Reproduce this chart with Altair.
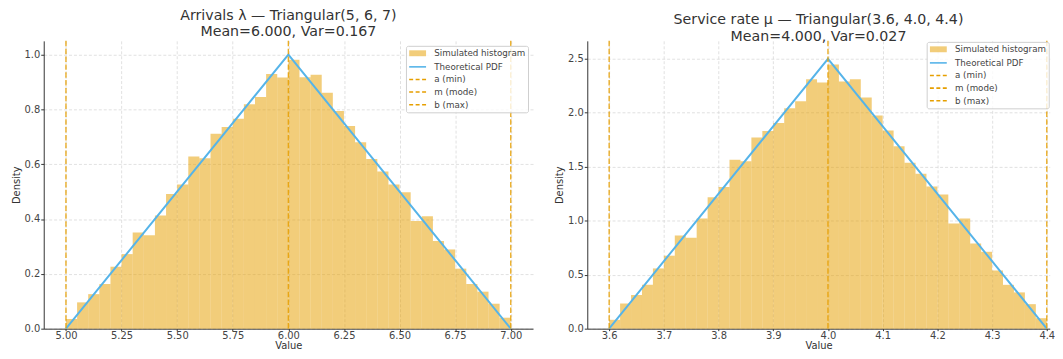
import altair as alt
import pandas as pd

# ---------------- data ----------------
series = ["Simulated histogram", "Theoretical PDF", "a (min)", "m (mode)", "b (max)"]

# Arrivals lambda ~ Triangular(5, 6, 7)
lam_a, lam_m, lam_b = 5.0, 6.0, 7.0
lam_density = [0.035, 0.096, 0.126, 0.163, 0.226, 0.272, 0.351, 0.341, 0.413, 0.491,
               0.526, 0.628, 0.622, 0.711, 0.736, 0.766, 0.819, 0.845, 0.929, 0.916,
               0.981, 0.917, 0.926, 0.861, 0.794, 0.739, 0.680, 0.619, 0.573, 0.526,
               0.498, 0.393, 0.410, 0.320, 0.289, 0.219, 0.163, 0.135, 0.091, 0.040]
lam_pdf_x = [5.0, 6.0, 7.0]
lam_pdf_y = [0.0, 1.0, 0.0]
lam_xticks = [5.00, 5.25, 5.50, 5.75, 6.00, 6.25, 6.50, 6.75, 7.00]
lam_yticks = [0.0, 0.2, 0.4, 0.6, 0.8, 1.0]
lam_title = ["Arrivals \u03bb \u2014 Triangular(5, 6, 7)", "Mean=6.000, Var=0.167"]

# Service rate mu ~ Triangular(3.6, 4.0, 4.4)
mu_a, mu_m, mu_b = 3.6, 4.0, 4.4
mu_density = [0.082, 0.233, 0.312, 0.406, 0.558, 0.676, 0.864, 0.842, 1.021, 1.218,
              1.312, 1.565, 1.550, 1.771, 1.832, 1.905, 2.041, 2.107, 2.311, 2.280,
              2.447, 2.289, 2.311, 2.141, 1.975, 1.835, 1.689, 1.538, 1.435, 1.318,
              1.242, 0.973, 1.021, 0.788, 0.712, 0.539, 0.406, 0.336, 0.227, 0.097]
mu_pdf_x = [3.6, 4.0, 4.4]
mu_pdf_y = [0.0, 2.5, 0.0]
mu_xticks = [3.6, 3.7, 3.8, 3.9, 4.0, 4.1, 4.2, 4.3, 4.4]
mu_yticks = [0.0, 0.5, 1.0, 1.5, 2.0, 2.5]
mu_title = ["Service rate \u03bc \u2014 Triangular(3.6, 4.0, 4.4)", "Mean=4.000, Var=0.027"]

# ---------------- style ----------------
HIST = "#E69F00"
BLUE = "#56B4E9"
ORANGE = "#E69F00"
FONT = "DejaVu Sans"

SHAPE_RECT = "M-1,-0.7H3V0.7H-1Z"
SHAPE_LINE = "M-1,0H3"
SHAPE_DASH = "M-1,0H-0.06M0.53,0H1.47M2.06,0H3"


def panel(title, a, m, b, density, pdf_x, pdf_y, xdomain, xticks, xfmt,
          ydomain, yticks, width, height, title_offset, legend_offset):
    n = len(density)
    w = (b - a) / n
    hist = pd.DataFrame({
        "x0": [a + i * w for i in range(n)],
        "x1": [a + (i + 1) * w for i in range(n)],
        "d": density,
        "z": [0.0] * n,
    })
    pdf = pd.DataFrame({"x": pdf_x, "y": pdf_y})
    vlines = pd.DataFrame({"x": [a, m, b], "series": series[2:]})
    leg = pd.DataFrame({"series": series, "x": [a] * 5, "y": [0.0] * 5})

    xs = alt.Scale(domain=xdomain, nice=False, zero=False)
    ys = alt.Scale(domain=ydomain, nice=False, zero=False)
    xaxis = alt.Axis(values=xticks, format=xfmt, title="Value", grid=True)
    yaxis = alt.Axis(values=yticks, format=".1f", title="Density", grid=True)

    bars = alt.Chart(hist).mark_rect(color=HIST, opacity=0.52).encode(
        x=alt.X("x0:Q", scale=xs, axis=xaxis),
        x2="x1:Q",
        y=alt.Y("d:Q", scale=ys, axis=yaxis),
        y2="z:Q",
    )
    line = alt.Chart(pdf).mark_line(color=BLUE, strokeWidth=2).encode(
        x=alt.X("x:Q", scale=xs),
        y=alt.Y("y:Q", scale=ys),
    )
    rules = alt.Chart(vlines).mark_rule(
        color=ORANGE, strokeWidth=1.4, strokeDash=[5.5, 2.4], opacity=0.85
    ).encode(x=alt.X("x:Q", scale=xs))

    common_legend = alt.Legend(title=None, offset=legend_offset)
    legend_layer = alt.Chart(leg).mark_point(filled=True, opacity=0).encode(
        x=alt.X("x:Q", scale=xs),
        y=alt.Y("y:Q", scale=ys),
        fill=alt.Fill("series:N", legend=common_legend,
                      scale=alt.Scale(domain=series,
                                      range=["rgba(230,159,0,0.52)", "transparent",
                                             "transparent", "transparent", "transparent"])),
        stroke=alt.Stroke("series:N", legend=common_legend,
                          scale=alt.Scale(domain=series,
                                          range=["transparent", BLUE, ORANGE, ORANGE, ORANGE])),
        shape=alt.Shape("series:N", legend=common_legend,
                        scale=alt.Scale(domain=series,
                                        range=[SHAPE_RECT, SHAPE_LINE, SHAPE_DASH,
                                               SHAPE_DASH, SHAPE_DASH])),
    )

    return alt.layer(bars, line, rules, legend_layer).properties(
        width=width,
        height=height,
        title=alt.TitleParams(text=title, fontSize=14.3, lineHeight=17, font=FONT,
                              color="#333333", fontWeight="normal",
                              anchor="middle", offset=title_offset),
    )


left = panel(lam_title, lam_a, lam_m, lam_b, lam_density, lam_pdf_x, lam_pdf_y,
             [4.9, 7.1], lam_xticks, ".2f", [0, 1.05], lam_yticks, 493, 290, 0.5, 5)
right = panel(mu_title, mu_a, mu_m, mu_b, mu_density, mu_pdf_x, mu_pdf_y,
              [3.56, 4.4054], mu_xticks, ".1f", [0, 2.666], mu_yticks, 466, 290, -4, 1)

chart = alt.hconcat(left, right, spacing=21.7).resolve_scale(
    fill="independent", stroke="independent", shape="independent"
).resolve_legend(
    fill="independent", stroke="independent", shape="independent"
).properties(
    padding={"left": 3, "top": -1.2, "right": 0, "bottom": 0}
).configure_view(
    stroke=None
).configure_axis(
    domainColor="#333333", domainWidth=1,
    tickColor="#333333", tickSize=3, tickWidth=1,
    labelColor="#444444", labelFont=FONT, labelFontSize=10, labelPadding=1,
    titleColor="#333333", titleFont=FONT, titleFontSize=10, titleFontWeight="normal",
    gridColor="#d9d9d9", gridDash=[3, 2], gridWidth=0.8,
    labelOverlap=False, labelFlush=False,
).configure_axisY(
    titlePadding=3
).configure_axisX(
    tickSize=2, labelPadding=0, titlePadding=0
).configure_legend(
    orient="top-right", padding=2, rowPadding=1.7,
    labelFont=FONT, labelFontSize=8.8, labelColor="#444444", labelOffset=15.5,
    labelLimit=300,
    symbolSize=72.25, symbolStrokeWidth=1.6, symbolOpacity=1,
    strokeColor="#cfcfcf", fillColor="rgba(255,255,255,0.8)", cornerRadius=2,
)

chart.save("out.html", embed_options={"renderer": "svg", "actions": False})
